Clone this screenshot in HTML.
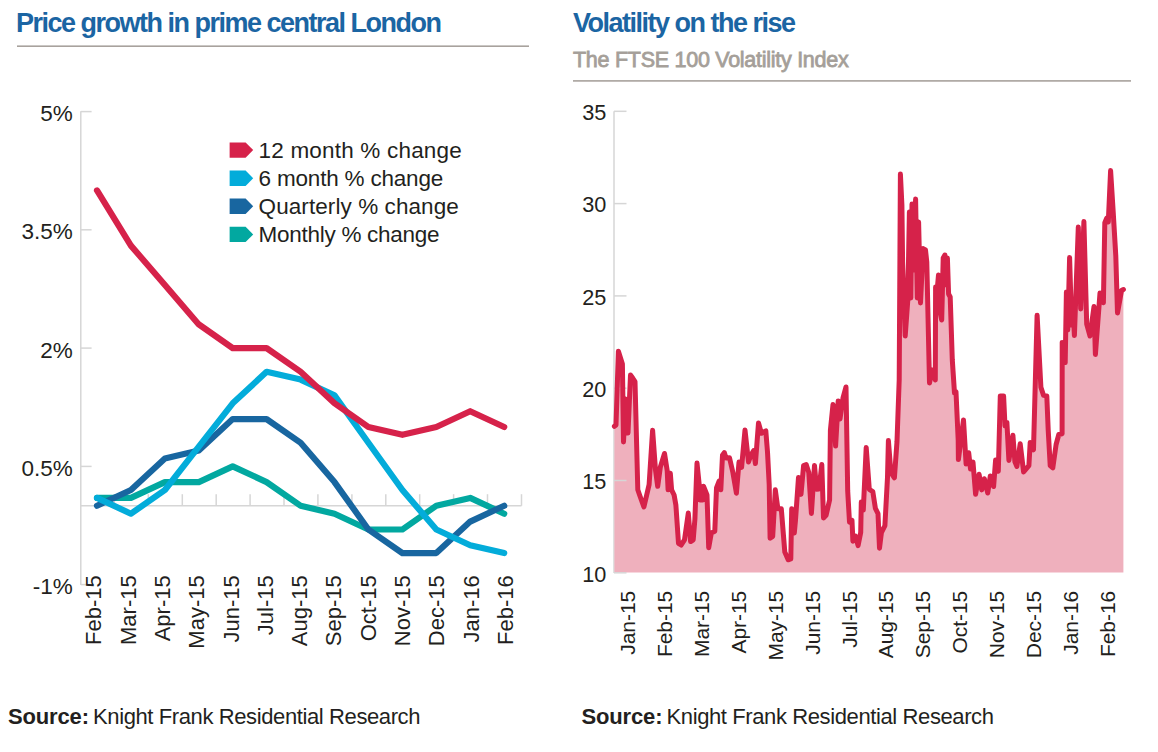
<!DOCTYPE html>
<html><head><meta charset="utf-8"><title>Price growth and volatility</title>
<style>
html,body{margin:0;padding:0;background:#fff;}
body{width:1158px;height:752px;overflow:hidden;}
svg{display:block;}
text{font-family:"Liberation Sans",sans-serif;}
</style></head><body>
<svg width="1158" height="752" viewBox="0 0 1158 752">
<text x="16" y="32" font-size="27" font-weight="bold" fill="#1b65a3" letter-spacing="-1.5">Price growth in prime central London</text>
<rect x="17" y="45.4" width="512" height="1.6" fill="#a8a29d"/>
<text x="573" y="32" font-size="27" font-weight="bold" fill="#1b65a3" letter-spacing="-1.5">Volatility on the rise</text>
<text x="573" y="66.8" font-size="21.5" fill="#a59f99" stroke="#a59f99" stroke-width="0.8" letter-spacing="-0.27">The FTSE 100 Volatility Index</text>
<rect x="573" y="80.1" width="558" height="1.6" fill="#a8a29d"/>
<g stroke="#d6d6d6" stroke-width="1.5" fill="none">
<line x1="80.8" y1="111.3" x2="80.8" y2="585"/>
<line x1="80.8" y1="111.6" x2="91.6" y2="111.6"/>
<line x1="80.8" y1="229.8" x2="91.6" y2="229.8"/>
<line x1="80.8" y1="348.1" x2="91.6" y2="348.1"/>
<line x1="80.8" y1="466.4" x2="91.6" y2="466.4"/>
<line x1="80.8" y1="584.6" x2="91.6" y2="584.6"/>
<line x1="80.8" y1="505.8" x2="521.5" y2="505.8"/>
<line x1="114.4" y1="505.8" x2="114.4" y2="494.2"/>
<line x1="148.3" y1="505.8" x2="148.3" y2="494.2"/>
<line x1="182.3" y1="505.8" x2="182.3" y2="494.2"/>
<line x1="216.2" y1="505.8" x2="216.2" y2="494.2"/>
<line x1="250.1" y1="505.8" x2="250.1" y2="494.2"/>
<line x1="284.0" y1="505.8" x2="284.0" y2="494.2"/>
<line x1="317.9" y1="505.8" x2="317.9" y2="494.2"/>
<line x1="351.9" y1="505.8" x2="351.9" y2="494.2"/>
<line x1="385.8" y1="505.8" x2="385.8" y2="494.2"/>
<line x1="419.7" y1="505.8" x2="419.7" y2="494.2"/>
<line x1="453.6" y1="505.8" x2="453.6" y2="494.2"/>
<line x1="487.5" y1="505.8" x2="487.5" y2="494.2"/>
<line x1="521.5" y1="505.8" x2="521.5" y2="494.2"/>
</g>
<g font-size="22.5" fill="#231f20" text-anchor="end">
<text x="72.7" y="121.0">5%</text>
<text x="72.7" y="239.2">3.5%</text>
<text x="72.7" y="357.5">2%</text>
<text x="72.7" y="475.8">0.5%</text>
<text x="72.7" y="594.0">-1%</text>
</g>
<g font-size="22" fill="#231f20" text-anchor="end">
<text transform="translate(101.3,575.3) rotate(-90)">Feb-15</text>
<text transform="translate(135.6,575.3) rotate(-90)">Mar-15</text>
<text transform="translate(169.9,575.3) rotate(-90)">Apr-15</text>
<text transform="translate(204.2,575.3) rotate(-90)">May-15</text>
<text transform="translate(238.5,575.3) rotate(-90)">Jun-15</text>
<text transform="translate(272.8,575.3) rotate(-90)">Jul-15</text>
<text transform="translate(307.1,575.3) rotate(-90)">Aug-15</text>
<text transform="translate(341.4,575.3) rotate(-90)">Sep-15</text>
<text transform="translate(375.7,575.3) rotate(-90)">Oct-15</text>
<text transform="translate(410.0,575.3) rotate(-90)">Nov-15</text>
<text transform="translate(444.3,575.3) rotate(-90)">Dec-15</text>
<text transform="translate(478.6,575.3) rotate(-90)">Jan-16</text>
<text transform="translate(512.9,575.3) rotate(-90)">Feb-16</text>
</g>
<g fill="none" stroke-width="6.2" stroke-linejoin="round" stroke-linecap="round">
<polyline stroke="#02a8a0" points="97.0,497.9 130.9,497.9 164.9,482.1 198.8,482.1 232.7,466.4 266.6,482.1 300.6,505.8 334.5,513.7 368.4,529.5 402.4,529.5 436.3,505.8 470.2,497.9 504.2,513.7"/>
<polyline stroke="#1866a0" points="97.0,505.8 130.9,490.0 164.9,458.5 198.8,450.6 232.7,419.1 266.6,419.1 300.6,442.7 334.5,482.1 368.4,529.5 402.4,553.1 436.3,553.1 470.2,521.6 504.2,505.8"/>
<polyline stroke="#03acda" points="97.0,497.9 130.9,513.7 164.9,490.0 198.8,446.7 232.7,403.3 266.6,371.8 300.6,379.6 334.5,395.4 368.4,442.7 402.4,490.0 436.3,529.5 470.2,545.2 504.2,553.1"/>
<polyline stroke="#d6224a" points="97.0,190.4 130.9,245.6 164.9,285.0 198.8,324.4 232.7,348.1 266.6,348.1 300.6,371.8 334.5,403.3 368.4,427.0 402.4,434.8 436.3,427.0 470.2,411.2 504.2,427.0"/>
</g>
<g font-size="22.5" fill="#231f20">
<path d="M229.6,142.40 h16 l7.6,7.7 l-7.6,7.7 h-16 z" fill="#d6224a"/>
<text x="258.6" y="158.1" letter-spacing="0.19">12 month % change</text>
<path d="M229.6,170.50 h16 l7.6,7.7 l-7.6,7.7 h-16 z" fill="#03acda"/>
<text x="258.6" y="186.2" letter-spacing="-0.20">6 month % change</text>
<path d="M229.6,198.60 h16 l7.6,7.7 l-7.6,7.7 h-16 z" fill="#1866a0"/>
<text x="258.6" y="214.3" letter-spacing="0.08">Quarterly % change</text>
<path d="M229.6,226.70 h16 l7.6,7.7 l-7.6,7.7 h-16 z" fill="#02a8a0"/>
<text x="258.6" y="242.4" letter-spacing="-0.28">Monthly % change</text>
</g>
<line x1="614" y1="111.3" x2="614" y2="573" stroke="#d6d6d6" stroke-width="1.5"/>
<polygon points="614.4,572.6 614.4,426.3 616.0,425.0 618.4,351.2 622.4,364.0 623.5,442.0 625.6,399.0 628.0,433.0 630.5,375.0 632.7,378.0 635.0,381.5 637.8,489.8 639.6,495.0 643.9,507.0 649.1,484.6 652.6,430.3 655.5,470.0 657.7,486.3 660.3,467.3 664.5,453.5 667.2,470.7 668.1,489.8 670.3,473.3 671.6,489.8 674.1,495.0 675.9,505.3 678.5,543.3 681.1,545.0 684.5,539.9 688.3,513.1 690.6,541.6 693.2,539.9 694.9,519.1 697.0,463.0 699.2,484.6 700.1,500.1 702.7,500.1 703.5,486.3 707.0,495.0 708.7,547.7 711.3,533.0 714.8,531.2 716.5,488.0 719.1,481.1 720.8,489.8 722.5,455.2 724.3,452.6 726.0,458.0 729.5,457.8 732.9,472.5 736.4,493.2 739.0,462.1 741.6,467.3 745.0,429.9 748.5,462.0 751.0,455.0 753.7,450.6 755.4,463.6 758.5,423.0 761.4,433.3 765.8,430.8 767.5,452.0 769.2,484.6 770.1,538.2 772.7,536.4 775.3,489.8 777.9,508.8 781.3,508.8 784.8,552.0 788.2,559.8 790.8,558.9 791.7,508.8 794.3,533.0 795.5,520.0 798.5,477.5 801.0,494.4 803.6,465.5 806.2,464.5 808.8,472.6 811.4,513.4 814.5,465.5 816.6,489.2 819.0,489.0 821.8,464.5 823.5,518.0 826.1,515.3 829.6,500.0 830.4,430.3 833.0,404.5 835.6,446.0 838.2,401.0 840.0,419.0 843.0,398.0 846.0,387.0 847.7,491.0 849.5,522.2 852.0,520.5 852.9,541.2 855.5,536.1 858.1,545.6 860.7,532.6 861.3,502.0 863.3,510.1 866.2,447.5 869.3,489.4 872.8,491.6 875.4,508.4 878.0,513.6 879.5,548.2 881.4,532.6 884.9,525.7 887.5,477.3 888.4,440.6 890.9,472.6 894.4,477.8 897.0,441.5 899.2,380.0 900.4,174.0 901.9,205.0 902.6,262.0 905.2,336.0 907.8,300.0 909.4,212.0 910.8,298.0 912.0,204.0 913.6,270.0 915.6,199.0 917.3,298.0 918.6,222.0 920.5,303.0 923.1,248.6 925.5,250.0 926.8,262.0 929.5,383.0 932.0,370.0 935.3,380.0 935.6,287.0 937.0,292.0 938.5,275.0 940.0,312.0 941.7,320.0 943.2,258.0 944.9,255.0 946.2,285.0 947.4,258.0 948.6,294.0 950.2,297.0 952.3,360.0 954.5,393.0 956.0,392.0 958.2,440.0 958.4,459.6 963.5,419.9 966.1,464.0 968.7,452.7 970.5,469.1 973.0,462.2 975.6,494.2 979.1,474.3 981.7,489.9 984.3,478.7 987.7,493.0 990.3,476.0 993.6,486.5 995.6,460.0 998.3,471.3 1000.3,395.9 1003.6,395.9 1005.0,425.9 1006.9,422.5 1008.9,460.4 1012.9,435.2 1014.9,461.8 1016.9,466.4 1020.2,443.8 1023.6,471.9 1028.9,465.7 1030.2,442.5 1033.5,449.8 1037.1,315.2 1040.9,387.3 1043.5,395.3 1046.8,395.9 1048.2,429.8 1050.2,465.7 1052.8,467.9 1056.1,444.5 1058.8,434.5 1062.1,433.8 1062.2,342.5 1065.2,362.6 1066.4,292.0 1067.8,330.0 1069.6,257.5 1071.6,325.0 1072.6,300.0 1074.4,335.5 1078.3,227.1 1080.7,309.0 1083.9,221.5 1086.7,324.0 1090.0,336.0 1094.0,306.6 1095.4,354.5 1100.0,293.0 1103.4,302.6 1104.8,222.8 1106.8,218.0 1108.3,222.0 1110.6,170.6 1113.2,212.0 1115.8,256.0 1117.5,313.0 1121.5,290.5 1123.4,289.5 1123.4,572.6" fill="#efb0bd"/>
<g stroke="#d6d6d6" stroke-width="1.5" fill="none">
<line x1="614" y1="111.3" x2="626.5" y2="111.3"/>
<line x1="614" y1="203.6" x2="626.5" y2="203.6"/>
<line x1="614" y1="295.9" x2="626.5" y2="295.9"/>
<line x1="614" y1="388.2" x2="626.5" y2="388.2"/>
<line x1="614" y1="480.5" x2="626.5" y2="480.5"/>
<line x1="614" y1="572.8" x2="626.5" y2="572.8"/>
</g>
<polyline points="614.4,426.3 616.0,425.0 618.4,351.2 622.4,364.0 623.5,442.0 625.6,399.0 628.0,433.0 630.5,375.0 632.7,378.0 635.0,381.5 637.8,489.8 639.6,495.0 643.9,507.0 649.1,484.6 652.6,430.3 655.5,470.0 657.7,486.3 660.3,467.3 664.5,453.5 667.2,470.7 668.1,489.8 670.3,473.3 671.6,489.8 674.1,495.0 675.9,505.3 678.5,543.3 681.1,545.0 684.5,539.9 688.3,513.1 690.6,541.6 693.2,539.9 694.9,519.1 697.0,463.0 699.2,484.6 700.1,500.1 702.7,500.1 703.5,486.3 707.0,495.0 708.7,547.7 711.3,533.0 714.8,531.2 716.5,488.0 719.1,481.1 720.8,489.8 722.5,455.2 724.3,452.6 726.0,458.0 729.5,457.8 732.9,472.5 736.4,493.2 739.0,462.1 741.6,467.3 745.0,429.9 748.5,462.0 751.0,455.0 753.7,450.6 755.4,463.6 758.5,423.0 761.4,433.3 765.8,430.8 767.5,452.0 769.2,484.6 770.1,538.2 772.7,536.4 775.3,489.8 777.9,508.8 781.3,508.8 784.8,552.0 788.2,559.8 790.8,558.9 791.7,508.8 794.3,533.0 795.5,520.0 798.5,477.5 801.0,494.4 803.6,465.5 806.2,464.5 808.8,472.6 811.4,513.4 814.5,465.5 816.6,489.2 819.0,489.0 821.8,464.5 823.5,518.0 826.1,515.3 829.6,500.0 830.4,430.3 833.0,404.5 835.6,446.0 838.2,401.0 840.0,419.0 843.0,398.0 846.0,387.0 847.7,491.0 849.5,522.2 852.0,520.5 852.9,541.2 855.5,536.1 858.1,545.6 860.7,532.6 861.3,502.0 863.3,510.1 866.2,447.5 869.3,489.4 872.8,491.6 875.4,508.4 878.0,513.6 879.5,548.2 881.4,532.6 884.9,525.7 887.5,477.3 888.4,440.6 890.9,472.6 894.4,477.8 897.0,441.5 899.2,380.0 900.4,174.0 901.9,205.0 902.6,262.0 905.2,336.0 907.8,300.0 909.4,212.0 910.8,298.0 912.0,204.0 913.6,270.0 915.6,199.0 917.3,298.0 918.6,222.0 920.5,303.0 923.1,248.6 925.5,250.0 926.8,262.0 929.5,383.0 932.0,370.0 935.3,380.0 935.6,287.0 937.0,292.0 938.5,275.0 940.0,312.0 941.7,320.0 943.2,258.0 944.9,255.0 946.2,285.0 947.4,258.0 948.6,294.0 950.2,297.0 952.3,360.0 954.5,393.0 956.0,392.0 958.2,440.0 958.4,459.6 963.5,419.9 966.1,464.0 968.7,452.7 970.5,469.1 973.0,462.2 975.6,494.2 979.1,474.3 981.7,489.9 984.3,478.7 987.7,493.0 990.3,476.0 993.6,486.5 995.6,460.0 998.3,471.3 1000.3,395.9 1003.6,395.9 1005.0,425.9 1006.9,422.5 1008.9,460.4 1012.9,435.2 1014.9,461.8 1016.9,466.4 1020.2,443.8 1023.6,471.9 1028.9,465.7 1030.2,442.5 1033.5,449.8 1037.1,315.2 1040.9,387.3 1043.5,395.3 1046.8,395.9 1048.2,429.8 1050.2,465.7 1052.8,467.9 1056.1,444.5 1058.8,434.5 1062.1,433.8 1062.2,342.5 1065.2,362.6 1066.4,292.0 1067.8,330.0 1069.6,257.5 1071.6,325.0 1072.6,300.0 1074.4,335.5 1078.3,227.1 1080.7,309.0 1083.9,221.5 1086.7,324.0 1090.0,336.0 1094.0,306.6 1095.4,354.5 1100.0,293.0 1103.4,302.6 1104.8,222.8 1106.8,218.0 1108.3,222.0 1110.6,170.6 1113.2,212.0 1115.8,256.0 1117.5,313.0 1121.5,290.5 1123.4,289.5" fill="none" stroke="#d6224a" stroke-width="5" stroke-linejoin="round" stroke-linecap="round"/>
<g font-size="21.7" fill="#231f20" text-anchor="end">
<text x="606.3" y="120.0">35</text>
<text x="606.3" y="212.3">30</text>
<text x="606.3" y="304.6">25</text>
<text x="606.3" y="396.9">20</text>
<text x="606.3" y="489.2">15</text>
<text x="606.3" y="581.5">10</text>
</g>
<g font-size="21" fill="#231f20" text-anchor="end">
<text transform="translate(635.3,590.8) rotate(-90)" letter-spacing="-0.05">Jan-15</text>
<text transform="translate(672.2,590.8) rotate(-90)" letter-spacing="-0.05">Feb-15</text>
<text transform="translate(709.0,590.8) rotate(-90)" letter-spacing="-0.05">Mar-15</text>
<text transform="translate(745.9,590.8) rotate(-90)" letter-spacing="-0.05">Apr-15</text>
<text transform="translate(782.8,590.8) rotate(-90)" letter-spacing="-0.05">May-15</text>
<text transform="translate(819.6,590.8) rotate(-90)" letter-spacing="-0.05">Jun-15</text>
<text transform="translate(856.5,590.8) rotate(-90)" letter-spacing="-0.05">Jul-15</text>
<text transform="translate(893.4,590.8) rotate(-90)" letter-spacing="-0.05">Aug-15</text>
<text transform="translate(930.3,590.8) rotate(-90)" letter-spacing="-0.05">Sep-15</text>
<text transform="translate(967.1,590.8) rotate(-90)" letter-spacing="-0.05">Oct-15</text>
<text transform="translate(1004.0,590.8) rotate(-90)" letter-spacing="-0.05">Nov-15</text>
<text transform="translate(1040.9,590.8) rotate(-90)" letter-spacing="-0.05">Dec-15</text>
<text transform="translate(1077.7,590.8) rotate(-90)" letter-spacing="-0.05">Jan-16</text>
<text transform="translate(1114.6,590.8) rotate(-90)" letter-spacing="-0.05">Feb-16</text>
</g>
<text x="8.0" y="724.3" font-size="22" font-weight="bold" fill="#231f20" letter-spacing="-0.15">Source:</text>
<text x="93.0" y="724.3" font-size="22" fill="#231f20" letter-spacing="-0.39">Knight Frank Residential Research</text>
<text x="581.5" y="724.3" font-size="22" font-weight="bold" fill="#231f20" letter-spacing="-0.15">Source:</text>
<text x="666.5" y="724.3" font-size="22" fill="#231f20" letter-spacing="-0.39">Knight Frank Residential Research</text>
</svg>
</body></html>
